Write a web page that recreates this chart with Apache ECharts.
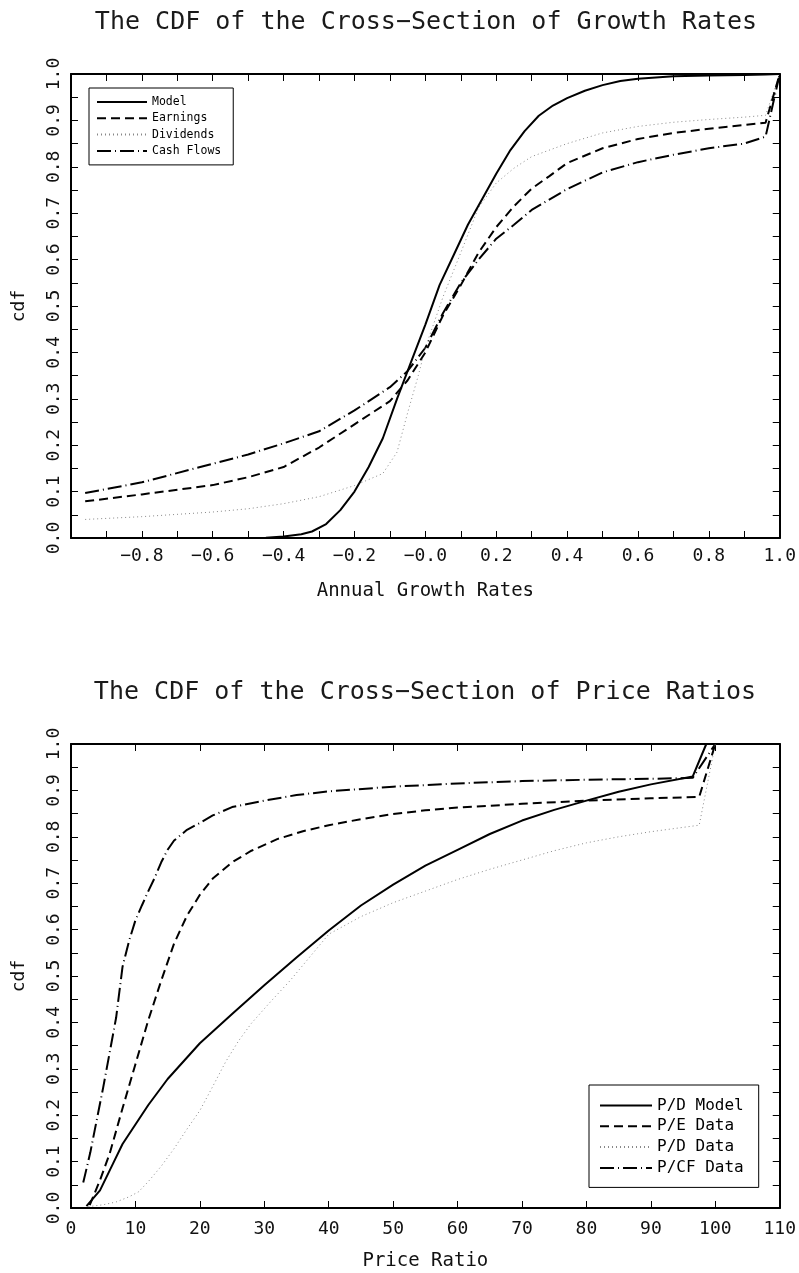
<!DOCTYPE html>
<html>
<head>
<meta charset="utf-8">
<script src="https://cdn.jsdelivr.net/npm/echarts@6/dist/echarts.min.js"></script>
<style>
html,body{margin:0;padding:0;background:#fff;}
#c{width:799px;height:1273px;}
</style>
</head>
<body>
<div id="c"></div>
<script>
// ---- Top chart: growth rates ----
const growthTitle = 'The CDF of the Cross\u2212Section of Growth Rates';
const growthNames = ['Model', 'Earnings', 'Dividends', 'Cash Flows'];
const growthModel = [[-0.96,0],[-0.8,0],[-0.6,0],[-0.45,0.0005],[-0.4,0.003],[-0.35,0.008],[-0.32,0.014],[-0.28,0.03],[-0.24,0.06],[-0.2,0.1],[-0.16,0.153],[-0.12,0.215],[-0.08,0.3],[-0.04,0.38],[0,0.46],[0.04,0.545],[0.08,0.61],[0.12,0.675],[0.16,0.73],[0.2,0.785],[0.24,0.836],[0.28,0.877],[0.32,0.91],[0.36,0.932],[0.4,0.948],[0.45,0.964],[0.5,0.976],[0.55,0.985],[0.6,0.99],[0.7,0.995],[0.8,0.997],[0.9,0.998],[0.96,0.999],[1.0,1.0]];
const growthEarnings = [[-0.96,0.079],[-0.8,0.094],[-0.6,0.114],[-0.5,0.131],[-0.4,0.153],[-0.3,0.195],[-0.2,0.245],[-0.1,0.295],[-0.05,0.34],[0,0.4],[0.05,0.48],[0.1,0.545],[0.15,0.615],[0.2,0.67],[0.25,0.715],[0.3,0.753],[0.35,0.78],[0.4,0.808],[0.5,0.84],[0.6,0.86],[0.7,0.873],[0.8,0.882],[0.9,0.89],[0.96,0.895],[1.0,1.0]];
const growthDividends = [[-0.96,0.04],[-0.8,0.046],[-0.6,0.056],[-0.5,0.063],[-0.4,0.074],[-0.3,0.089],[-0.2,0.113],[-0.12,0.139],[-0.08,0.185],[-0.05,0.27],[-0.02,0.35],[0,0.41],[0.05,0.52],[0.1,0.615],[0.15,0.712],[0.2,0.765],[0.25,0.797],[0.3,0.822],[0.4,0.85],[0.5,0.873],[0.6,0.887],[0.7,0.896],[0.8,0.902],[0.9,0.907],[0.96,0.911],[1.0,1.0]];
const growthCash = [[-0.96,0.097],[-0.8,0.12],[-0.6,0.16],[-0.5,0.18],[-0.4,0.204],[-0.3,0.23],[-0.2,0.275],[-0.1,0.325],[-0.05,0.36],[0,0.41],[0.05,0.485],[0.1,0.55],[0.15,0.6],[0.2,0.645],[0.25,0.675],[0.3,0.707],[0.4,0.752],[0.5,0.788],[0.6,0.81],[0.7,0.826],[0.8,0.84],[0.9,0.85],[0.96,0.865],[1.0,1.0]];

// ---- Bottom chart: price ratios ----
const priceTitle = 'The CDF of the Cross\u2212Section of Price Ratios';
const priceNames = ['P/D Model', 'P/E Data', 'P/D Data', 'P/CF Data'];
const pdModel = [[2.4,0.004],[4.5,0.038],[6.5,0.095],[8,0.138],[10,0.18],[12,0.222],[15,0.278],[20,0.355],[25,0.418],[30,0.48],[35,0.54],[40,0.598],[45,0.652],[50,0.697],[55,0.738],[60,0.772],[65,0.806],[70,0.835],[75,0.858],[80,0.878],[85,0.897],[90,0.913],[96.5,0.93],[98.6,1.0]];
const peData = [[2.9,0.006],[4.5,0.06],[6,0.117],[8,0.215],[10,0.31],[12,0.405],[14,0.49],[16,0.57],[18,0.63],[20,0.675],[22,0.71],[25,0.745],[28,0.77],[32,0.795],[36,0.812],[40,0.825],[45,0.838],[50,0.849],[55,0.857],[60,0.863],[70,0.871],[80,0.878],[90,0.883],[97.5,0.886],[100,1.0]];
const pdData = [[2.7,0.003],[5,0.007],[7,0.013],[9,0.024],[10.5,0.035],[12,0.057],[14,0.09],[16,0.128],[18,0.17],[20,0.21],[22,0.262],[24,0.315],[26,0.36],[28,0.398],[31,0.445],[34,0.49],[37,0.54],[40,0.59],[45,0.628],[50,0.658],[55,0.683],[60,0.708],[65,0.73],[70,0.75],[75,0.77],[80,0.787],[85,0.8],[90,0.811],[97.5,0.825],[100,1.0]];
const pcfData = [[1.9,0.055],[2.5,0.09],[3,0.12],[4,0.19],[5,0.26],[6,0.335],[7,0.41],[8,0.52],[9,0.575],[10,0.62],[11,0.652],[12,0.683],[13,0.712],[14,0.745],[15,0.772],[16,0.792],[18,0.815],[20,0.83],[22,0.846],[25,0.864],[30,0.878],[35,0.89],[40,0.898],[50,0.908],[60,0.915],[70,0.92],[80,0.923],[90,0.925],[96.5,0.927],[100,1.0]];

const FONT = '"DejaVu Sans Mono", monospace';
const chart = echarts.init(document.getElementById('c'), null, {renderer: 'canvas'});

const styles = [
  {color: '#000', width: 2, type: 'solid'},
  {color: '#000', width: 2, type: [9, 5]},
  {color: '#888', width: 1, type: [1, 3]},
  {color: '#000', width: 2, type: [14, 4, 1, 4]}
];

function yFmt(v) { return v.toFixed(1); }
function topXFmt(v) {
  if (Math.abs(v + 1) < 1e-9) return '';
  if (Math.abs(v) < 1e-9) return '\u22120.0';
  return v.toFixed(1).replace('-', '\u2212');
}

const axisLineStyle = {show: true, onZero: false, lineStyle: {color: '#000', width: 2}};
const tickStyle = {show: true, inside: true, length: 7, lineStyle: {color: '#000', width: 1}};
const minorStyle = {show: true, splitNumber: 2, length: 7, lineStyle: {color: '#000', width: 1}};
const labelStyle = {color: '#111', fontFamily: FONT, fontSize: 18};

function yAxisPair(grid) {
  return [
    {type: 'value', gridIndex: grid, position: 'left', min: 0, max: 1, interval: 0.1,
     axisLine: axisLineStyle, axisTick: tickStyle, minorTick: minorStyle,
     splitLine: {show: false},
     axisLabel: Object.assign({rotate: 90, margin: 8, formatter: yFmt, showMinLabel: true, showMaxLabel: true}, labelStyle),
     name: 'cdf', nameLocation: 'middle', nameRotate: 90, nameGap: 43,
     nameTextStyle: {color: '#111', fontFamily: FONT, fontSize: 18}},
    {type: 'value', gridIndex: grid, position: 'right', min: 0, max: 1, interval: 0.1,
     axisLine: axisLineStyle, axisTick: tickStyle, minorTick: minorStyle,
     splitLine: {show: false}, axisLabel: {show: false}}
  ];
}

const xAxes = [
  {type: 'value', gridIndex: 0, position: 'bottom', min: -1, max: 1, interval: 0.2,
   axisLine: axisLineStyle, axisTick: tickStyle, minorTick: minorStyle,
   splitLine: {show: false},
   axisLabel: Object.assign({margin: 9, formatter: topXFmt, showMinLabel: true, showMaxLabel: true}, labelStyle),
   name: 'Annual Growth Rates', nameLocation: 'middle', nameGap: 44,
   nameTextStyle: {color: '#111', fontFamily: FONT, fontSize: 19}},
  {type: 'value', gridIndex: 0, position: 'top', min: -1, max: 1, interval: 0.2,
   axisLine: axisLineStyle, axisTick: tickStyle, minorTick: minorStyle,
   splitLine: {show: false}, axisLabel: {show: false}},
  {type: 'value', gridIndex: 1, position: 'bottom', min: 0, max: 110, interval: 10,
   axisLine: axisLineStyle, axisTick: tickStyle, splitLine: {show: false},
   axisLabel: Object.assign({margin: 12, showMinLabel: true, showMaxLabel: true}, labelStyle),
   name: 'Price Ratio', nameLocation: 'middle', nameGap: 44,
   nameTextStyle: {color: '#111', fontFamily: FONT, fontSize: 19}},
  {type: 'value', gridIndex: 1, position: 'top', min: 0, max: 110, interval: 10,
   axisLine: axisLineStyle, axisTick: tickStyle, splitLine: {show: false}, axisLabel: {show: false}}
];

const yAxes = yAxisPair(0).concat(yAxisPair(1));

const growthData = [growthModel, growthEarnings, growthDividends, growthCash];
const priceData = [pdModel, peData, pdData, pcfData];
const series = [];
growthNames.forEach((n, i) => series.push({
  name: n, type: 'line', xAxisIndex: 0, yAxisIndex: 0, data: growthData[i],
  symbol: 'none', lineStyle: styles[i], itemStyle: {color: styles[i].color}, z: 4 - i
}));
priceNames.forEach((n, i) => series.push({
  name: n, type: 'line', xAxisIndex: 2, yAxisIndex: 2, data: priceData[i],
  symbol: 'none', lineStyle: styles[i], itemStyle: {color: styles[i].color}, z: 4 - i
}));

chart.setOption({
  animation: false,
  backgroundColor: '#fff',
  graphic: [
    {type: 'text', x: 426, y: 22, style: {text: growthTitle, font: '25px ' + FONT, fill: '#1a1a1a', align: 'center', verticalAlign: 'middle', textAlign: 'center', textVerticalAlign: 'middle'}},
    {type: 'text', x: 425, y: 692, style: {text: priceTitle, font: '25px ' + FONT, fill: '#1a1a1a', align: 'center', verticalAlign: 'middle', textAlign: 'center', textVerticalAlign: 'middle'}}
  ],
  grid: [
    {left: 71, top: 74, width: 712, height: 464, containLabel: false},
    {left: 71, top: 744, width: 709, height: 464, containLabel: false}
  ],
  xAxis: xAxes,
  yAxis: yAxes,
  legend: [
    {data: growthNames, orient: 'vertical', left: 89, top: 88, itemWidth: 50, itemHeight: 10, itemGap: 4.3,
     padding: [8, 12, 8, 7], backgroundColor: '#fff', borderColor: '#000', borderWidth: 1, borderRadius: 0,
     itemStyle: {opacity: 0, borderWidth: 0},
     textStyle: {color: '#000', fontFamily: FONT, fontSize: 11.5}, selectedMode: false},
    {data: priceNames, orient: 'vertical', left: 589, top: 1085, itemWidth: 52, itemHeight: 12, itemGap: 4.8,
     padding: [12.5, 15, 11.5, 10], backgroundColor: '#fff', borderColor: '#000', borderWidth: 1, borderRadius: 0,
     itemStyle: {opacity: 0, borderWidth: 0},
     textStyle: {color: '#000', fontFamily: FONT, fontSize: 16}, selectedMode: false}
  ],
  series: series
});
</script>
</body>
</html>
